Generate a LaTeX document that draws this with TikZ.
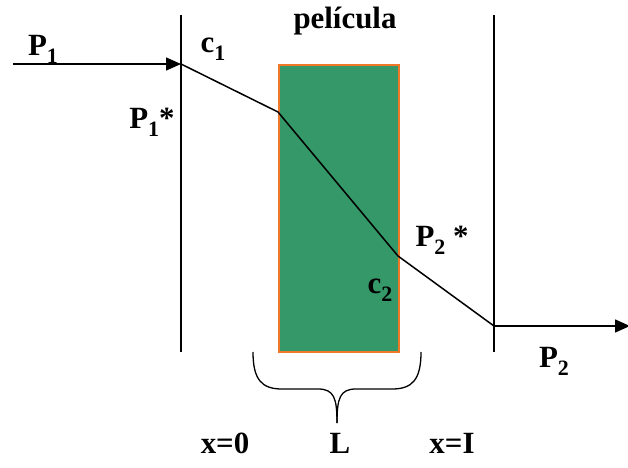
\documentclass[tikz,border=0pt]{standalone}
\usepackage{fontspec}
\setmainfont{Liberation Serif}
\usetikzlibrary{arrows.meta}
\newcommand{\lowsub}[1]{\raisebox{-0.55ex}{\fontsize{22}{22}\selectfont #1}}
\definecolor{filmgreen}{RGB}{52,152,104}
\definecolor{filmorange}{RGB}{240,120,40}
\tikzset{
  lbl/.style={font=\fontsize{31}{31}\selectfont\bfseries, inner sep=0pt},
  wall/.style={line width=1.4bp},
  prof/.style={line width=1.5bp},
  arr/.style={line width=1.5bp, -{Triangle[length=15bp,width=13bp]}}
}
\begin{document}
\begin{tikzpicture}[x=1bp,y=-1bp]
\useasboundingbox (0,0) rectangle (628,468);
% walls
\draw[wall] (181,15) -- (181,352);
\draw[wall] (494,15) -- (494,352);
% film
\node[draw=filmorange, fill=filmgreen, line width=1.6bp, minimum width=120bp, minimum height=287bp, inner sep=0pt, anchor=north west] (film) at (278,64) {};
% points
\coordinate (a) at (181,64);
\coordinate (b) at (278,112);
\coordinate (c) at (398,256);
\coordinate (d) at (494,326);
\coordinate (s1) at (13,64);
\coordinate (e2) at (630,326);
\draw[arr] (s1) -- (a);
\draw[prof] (a) -- (b) -- (c) -- (d);
\draw[arr] (d) -- (e2);
% brace
\coordinate (bl) at (253,352);
\coordinate (br) at (421,352);
\coordinate (bt) at (337,423);
\draw[line width=1.3bp] (bl) .. controls (253,380) and (262,389) .. (282,389)
  -- (318,389) .. controls (334,389) and (337,398) .. (bt);
\draw[line width=1.3bp] (br) .. controls (421,380) and (412,389) .. (392,389)
  -- (356,389) .. controls (340,389) and (337,398) .. (bt);
% labels
\node[lbl] (p1) at (43,49) {P\lowsub{1}};
\node[lbl] (c1) at (213,49) {c\lowsub{1}};
\node[lbl] (p1s) at (152,122) {P\lowsub{1}*};
\node[lbl] (pel) at (345,21) {película};
\node[lbl] (p2s) at (442,240) {P\lowsub{2} *};
\node[lbl] (c2) at (380,290) {c\lowsub{2}};
\node[lbl] (p2) at (554,361) {P\lowsub{2}};
\node[lbl] (x0) at (225,443) {x=0};
\node[lbl] (L) at (340,443) {L};
\node[lbl] (xl) at (452,443) {x=I};
\end{tikzpicture}
\end{document}
